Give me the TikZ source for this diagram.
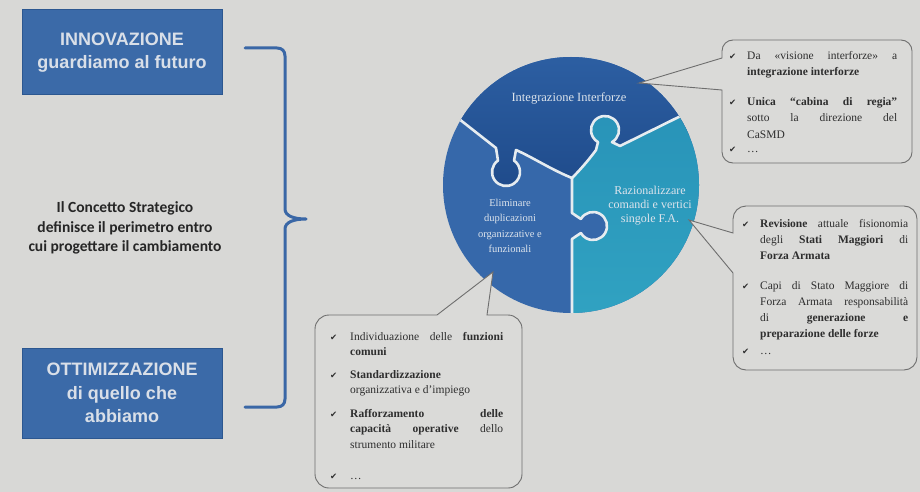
\documentclass[tikz,border=0pt]{standalone}
\usepackage{fontspec}
\setmainfont{Liberation Serif}
\newfontfamily\arialfont{Liberation Sans}
\newfontfamily\califont{Carlito}
\newfontfamily\symfont{DejaVu Sans}
\usetikzlibrary{calc}
\definecolor{bgc}{HTML}{D8D8D6}
\definecolor{boxblue}{HTML}{3B6AA8}
\definecolor{boxedge}{HTML}{2C5790}
\definecolor{boxtext}{HTML}{D9DFE8}
\definecolor{bracec}{HTML}{3A67A6}
\definecolor{topA}{HTML}{2E61A5}
\definecolor{topB}{HTML}{1F4B8B}
\definecolor{leftc}{HTML}{3668AA}
\definecolor{tealA}{HTML}{2893B8}
\definecolor{tealB}{HTML}{31A3C2}
\definecolor{seamc}{HTML}{E6ECF0}
\definecolor{pztext}{HTML}{DDE4EC}
\definecolor{calfill}{HTML}{DADAD8}
\definecolor{calline}{HTML}{6E6E6E}
\definecolor{ctxt}{HTML}{2E2E2E}
\newlength{\ckw}
\newcommand{\ck}{\makebox[\ckw][l]{\symfont\fontsize{8.5}{8.5}\selectfont ✔}}
\newcommand{\citem}[1]{\par\noindent\hangindent=\ckw\hangafter=1\ck#1\par}
\newcommand{\calsetup}{\hyphenpenalty=10000\exhyphenpenalty=10000\tolerance=10000\parskip=0pt\parindent=0pt}
\tikzset{
  bluebox/.style={draw=boxedge, line width=1pt, fill=boxblue, text=boxtext, align=center,
    minimum width=200pt, font=\arialfont\bfseries\fontsize{18}{23.5}\selectfont},
  midtext/.style={align=center, text=black!85, font=\califont\bfseries\fontsize{15.5}{19.5}\selectfont},
  bracestyle/.style={draw=bracec, line width=3pt, line cap=round, line join=round},
  seam/.style={draw=seamc, line width=2.6pt, line join=round},
  pzlabel/.style={align=center, text=pztext, inner sep=0pt},
  callout/.style={fill=calfill, draw=calline, line width=0.9pt},
  ctext/.style={inner sep=0pt, text=ctxt, anchor=north west},
  tlpath/.style={insert path={-- (496,148) -- ($(c1)+(235:14)$) arc[start angle=235,end angle=-55,radius=14]
      -- (516,150) .. controls (532,157) and (552,170) .. (572,178)}},
  trpath/.style={insert path={-- (620,146) -- ($(c2)+(60:14)$) arc[start angle=60,end angle=-240,radius=14]
      -- (596,150) .. controls (588,161) and (579,171) .. (572,178)}},
  vpath/.style={insert path={-- (572,213) -- ($(c3)+(210:14)$) arc[start angle=210,end angle=510,radius=14]
      -- (572,239) -- (572,330)}}
}
\begin{document}
\begin{tikzpicture}[x=1pt,y=-1pt]
\useasboundingbox (0,0) rectangle (920,492);
\fill[bgc] (0,0) rectangle (920,492);

% left boxes
\node[bluebox, minimum height=85pt] (inno) at (122,52.5) {INNOVAZIONE\\guardiamo al futuro};
\node[bluebox, minimum height=90pt] (otti) at (122,393) {OTTIMIZZAZIONE\\di quello che\\abbiamo};
\node[midtext] (concetto) at (125,228) {Il Concetto Strategico\\definisce il perimetro entro\\cui progettare il cambiamento};

% brace
\coordinate (bT) at (245,48);
\coordinate (bB) at (245,407);
\coordinate (bM) at (306,219);
\draw[bracestyle] (bT) -- (277,48) .. controls (282,48) and (285,51) .. (285,56) -- (285,209)
  .. controls (285,216) and (294,219) .. (bM) .. controls (294,219) and (285,222) .. (285,229)
  -- (285,399) .. controls (285,404) and (282,407) .. (277,407) -- (bB);

% puzzle circle
\coordinate (pc) at (571,185);
\coordinate (c1) at (506,172);
\coordinate (c2) at (605,130);
\coordinate (c3) at (593,226);
\coordinate (J) at (572,178);
\begin{scope}
  \clip (pc) circle[radius=128];
  \fill[leftc] (pc) circle[radius=130];
  \shade[top color=topA, bottom color=topB] (420,40) -- (440,104) [tlpath] -- (720,125) -- (720,40) -- cycle;
  \shade[top color=tealA, bottom color=tealB] (705,104) [trpath] [vpath] -- (720,330) -- (720,104) -- cycle;
  \draw[seam] (440,104) [tlpath];
  \draw[seam] (705,104) [trpath];
  \draw[seam] (J) [vpath];
\end{scope}
\node[pzlabel, font=\fontsize{12.5}{15}\selectfont] (pz1) at (569,98) {Integrazione Interforze};
\node[pzlabel, font=\fontsize{10.5}{15.5}\selectfont] (pz2) at (510,226) {Eliminare\\duplicazioni\\organizzative e\\funzionali};
\node[pzlabel, font=\fontsize{12}{14}\selectfont] (pz3) at (650,206) {Razionalizzare\\comandi e vertici\\singole F.A.};

% callouts
\coordinate (tipA) at (639,83);
\coordinate (tipB) at (689,220);
\coordinate (tipC) at (493,272);
\draw[callout] (tipA) -- (722,90) [rounded corners=11pt] -- (722,163) -- (912,163) -- (912,40) -- (722,40) [sharp corners] -- (722,58) -- cycle;
\draw[callout] (tipB) -- (733,273) [rounded corners=13pt] -- (733,370) -- (917,370) -- (917,206) -- (733,206) [sharp corners] -- (733,233) -- cycle;
\draw[callout] (tipC) -- (487,315) [rounded corners=14pt] -- (522,315) -- (522,488) -- (315,488) -- (315,315) [sharp corners] -- (437,315) -- cycle;

\node[ctext] (ctA) at (729,51) {\begin{minipage}{168pt}\calsetup\setlength{\ckw}{18pt}\fontsize{11.5}{16.5}\selectfont
\citem{Da «visione interforze» a\linebreak \textbf{integrazione interforze}}
\vspace{13pt}
\citem{\textbf{Unica “cabina di regia”}\linebreak sotto la direzione del\linebreak CaSMD}
\vspace{-2pt}
\citem{…}
\end{minipage}};

\node[ctext] (ctB) at (742,219) {\begin{minipage}{166pt}\calsetup\setlength{\ckw}{18pt}\fontsize{11.5}{16}\selectfont
\citem{\textbf{Revisione} attuale fisionomia\linebreak degli \textbf{Stati Maggiori} di\linebreak \textbf{Forza Armata}}
\vspace{14pt}
\citem{Capi di Stato Maggiore di\linebreak Forza Armata responsabilità\linebreak di \textbf{generazione e}\linebreak \textbf{preparazione delle forze}}
\vspace{1pt}
\citem{…}
\end{minipage}};

\node[ctext] (ctC) at (330,332) {\begin{minipage}{173pt}\calsetup\setlength{\ckw}{20pt}\fontsize{11.5}{15.5}\selectfont
\citem{Individuazione delle \textbf{funzioni}\linebreak \textbf{comuni}}
\vspace{7pt}
\citem{\textbf{Standardizzazione}\newline organizzativa e d’impiego}
\vspace{8pt}
\citem{\textbf{Rafforzamento delle}\linebreak \textbf{capacità operative} dello\linebreak strumento militare}
\vspace{16pt}
\citem{…}
\end{minipage}};
\end{tikzpicture}
\end{document}
